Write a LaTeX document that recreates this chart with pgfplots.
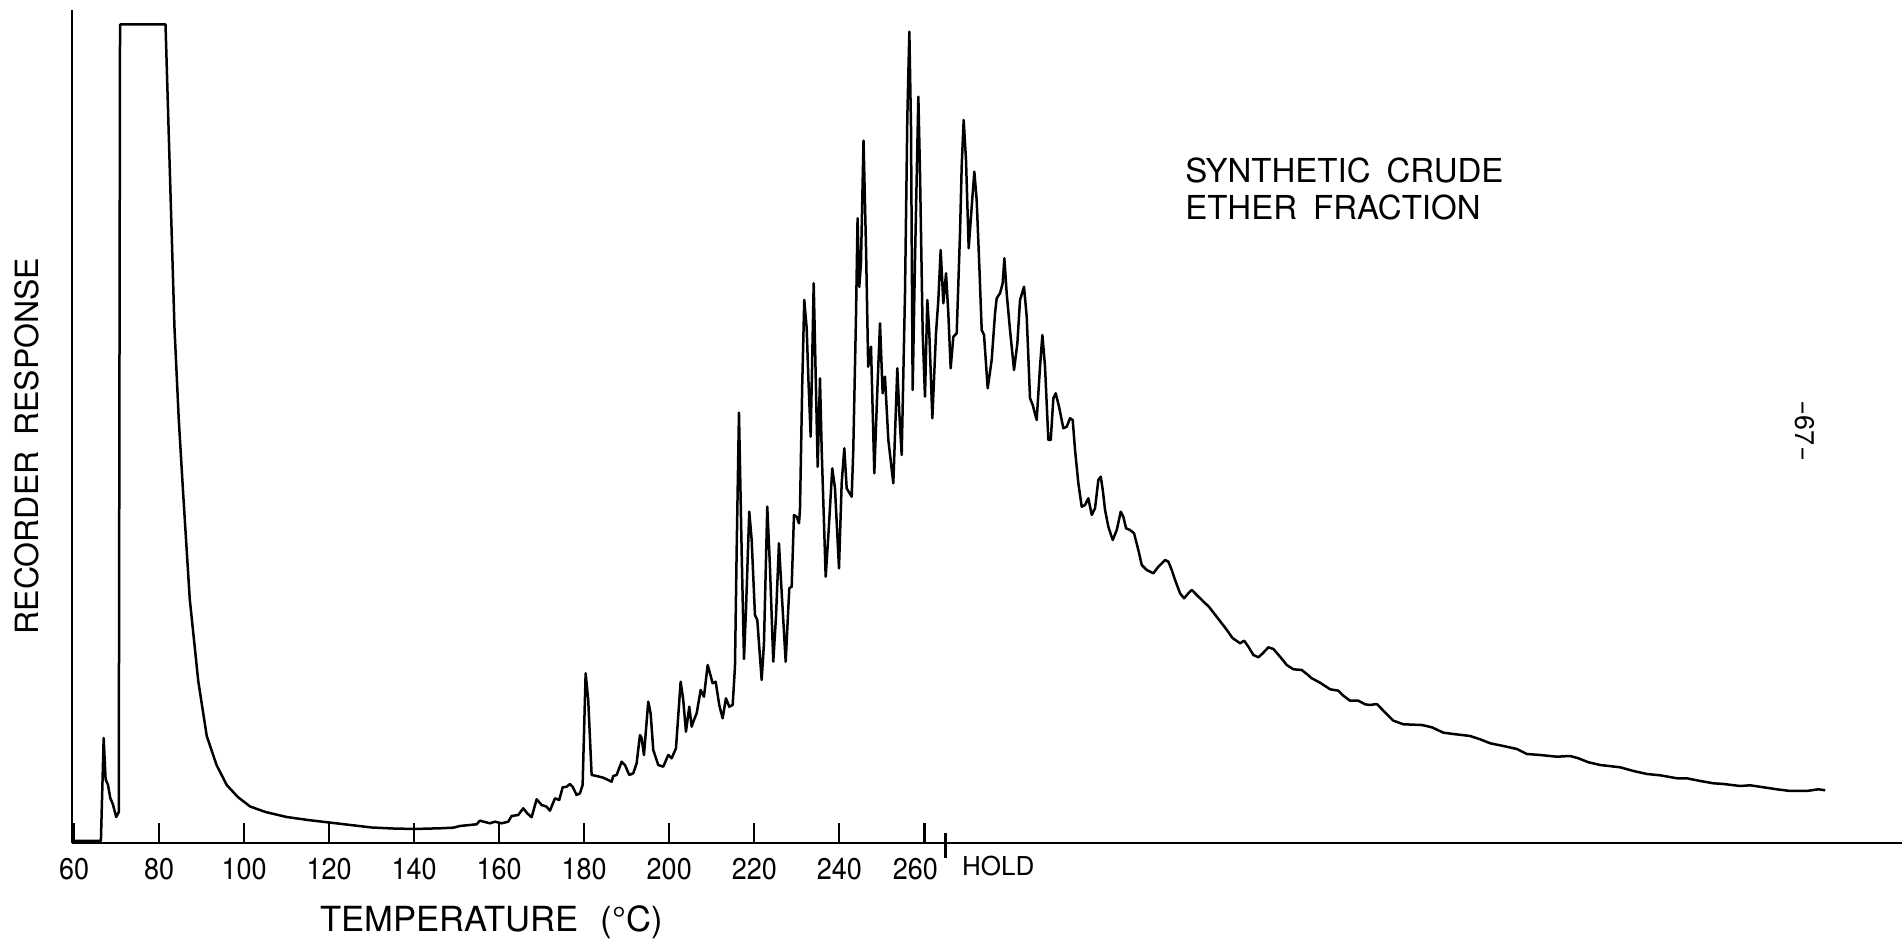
\documentclass[border=0pt]{standalone}
\usepackage{fontspec}
\setmainfont{TeX Gyre Heros}
\newfontfamily\letterfont[FakeStretch=0.9]{TeX Gyre Heros}
\usepackage{pgfplots}
\pgfplotsset{compat=1.18}
\newcommand{\longdash}{\scalebox{1.7}[1]{-}}
\begin{document}
\begin{tikzpicture}
\begin{axis}[
  scale only axis, width=915pt, height=416.5pt,
  xmin=59.5, xmax=490, ymin=0, ymax=833,
  axis x line=bottom, axis y line=left,
  axis line style={-, line width=1.4pt},
  xtick={60,80,...,260},
  xticklabels={60,80,100,120,140,160,180,200,220,240,\kern-9pt 260},
  tick align=inside,
  major tick length=10pt,
  tick style={line width=1.2pt, black},
  ytick=\empty,
  xticklabel style={font=\letterfont\fontsize{15}{15}\selectfont, inner sep=0pt, yshift=-7.5pt},
  /pgf/number format/assume math mode=true,
  clip=false,
]
\addplot[black, line width=1.25pt, line join=round, mark=none] table {
59.5 2
66.3 2
66.95 105
67.4 64
67.97 58
68.5 45
69.1 39
69.9 26
70.5 31
70.8 818.5
81.5 818.5
82.6 660
83.6 516
84.6 425
85.6 353
87.2 244
89.2 162
91.2 107
93.5 78
95.9 58
98.5 46
101.4 36.5
105 31
110 26
115 23
120 20.5
125 18
130 15.5
135 14.5
140 14
146.05 14.7
149.18 15.3
150.75 17
154.68 18.7
155.46 22.3
157.81 19.7
158.99 21.3
160.56 19.7
162.12 21.3
162.92 27
164.47 28
165.65 34.7
166.59 29.7
167.62 25.7
168.80 43.7
169.98 38
171.15 36.3
171.93 32.3
173.11 44.7
174.12 43
174.92 55.7
175.86 56.3
176.64 59
177.27 56.3
178.21 48
178.99 49.7
179.62 58
180.33 169.7
180.94 143
181.74 68
182.92 67
184.47 65.3
186.45 61.3
186.82 67
187.62 68
188.80 81.3
189.58 78
190.59 68
191.53 69.7
192.33 79.7
193.11 108
193.51 104.7
194.05 88
195.06 141.3
195.62 129.7
196.24 93
197.41 78
198.59 76.3
199.76 88
200.56 84.7
201.58 94.7
202.68 161.3
203.29 143
203.93 111.3
204.71 136.3
205.27 116.3
205.81 123
206.45 129.7
207.39 153
208.16 146.3
209.04 178
209.58 169.7
210.21 159.7
210.92 161.3
211.76 138
212.56 124.7
213.34 144.7
214.12 136.3
214.92 138
215.46 176.3
215.86 293
216.40 430.3
217.04 290
217.58 184
218.05 233
218.82 331.3
219.39 303
220.16 228
220.71 223
221.74 163
222.28 199.7
223.06 336.3
223.69 276.3
224.47 181.3
225.11 226.3
225.81 299.7
226.28 263
227.39 181.3
228.24 254.7
228.80 256.3
229.34 328
229.98 326.3
230.52 319.7
230.75 333
231.29 459.7
231.76 543
232.33 514.7
232.71 466.3
233.27 406.3
233.98 559.7
234.52 453
234.92 376.3
235.46 464.7
235.86 393
236.80 266.3
237.41 306.3
238.35 374.7
238.99 354.7
239.93 274.7
240.56 359.7
241.18 394.7
241.74 354.7
242.92 346.3
243.29 393
243.93 526.3
244.3 624.7
244.7 556
245.1 580
245.7 702.3
246.3 593
246.8 476.3
247.46 496.3
248.24 369.7
248.95 453
249.58 519.7
250.20 449.7
250.75 466.3
251.54 403
252.71 359.7
253.65 474.7
254.12 429.7
254.68 388
255.46 549.7
256.01 726.3
256.48 811.3
256.87 716.3
257.26 453
257.81 583
258.60 746.3
258.99 669.7
259.62 509.7
260.16 446.3
260.71 543
261.18 509.7
261.89 424.7
262.75 509.7
263.30 543
263.85 593
264.48 539.7
265.11 569.7
265.65 529.7
266.20 474.7
266.83 506.3
267.62 509.7
268.40 609.7
268.79 676.3
269.26 723
269.81 683
270.44 594.7
271.15 636.3
271.77 671.3
272.32 643
272.95 576.3
273.50 513
274.05 508
274.91 454.7
275.85 483
276.64 529.7
277.03 544.7
277.81 549.7
278.44 559.7
278.83 584.7
279.38 549.7
280.16 513
281.11 473
281.89 499.7
282.52 543
283.46 556.3
284.09 526.3
284.87 444.7
285.50 438
286.44 423
287.22 476.3
287.78 508
288.40 476.3
289.18 403
289.74 403
290.36 444.7
290.91 449.7
291.69 436.3
292.71 414.7
293.50 416.3
294.28 424.7
294.91 423
295.46 393
296.24 359.7
297.03 336.3
297.81 338
298.59 344.7
299.39 328
300.16 334.7
300.94 363
301.51 366.3
301.98 353
302.52 333
303.29 316.3
304.33 303
305.27 313
306.21 331.3
306.82 326.3
307.46 314.7
308.40 313
309.34 309.7
310.35 293
311.15 278
312.33 273
313.88 269.7
315.06 276.3
316.64 283
317.41 281.3
318.21 273
318.99 263
320.16 249.7
321.11 244.7
322.12 249.7
322.92 253
324.09 248
325.27 243
327 236
329 225
331 214
332.5 205
334.29 199.7
335.23 202.3
336.24 196.3
337.41 188
338.59 185.7
339.62 189.7
340.94 195.7
342.12 194
343.69 186.3
345.27 178
346.82 173.7
348.80 173
349.98 169
351.15 164.7
353.11 160.3
355.46 153.7
357.41 152.3
358.59 147.3
360.16 142.3
362.12 142.3
363.69 138.7
364.87 138
366.45 139
368.00 132.3
370.35 122.3
372.71 118.7
377.04 118
379.39 115.7
382.12 110.3
384.47 109
388.40 107
390.75 103.7
393.11 99.7
396.24 97
399.39 94
401.74 89
404.87 88
408.80 86.3
411.93 87
413.88 84.7
416.24 80.7
418.99 78
423.69 75.7
426.82 72
429.98 69
433.11 67.7
437.04 64.7
439.39 64.7
442.52 62
445.65 59.7
448.00 59
451.93 57
454.28 57.7
457.41 55.7
460.56 53.7
463.69 52
467.62 52
469.18 53
470.35 53.7
471.93 52.7
};
\draw[line width=1.2pt] (axis cs:265,10) -- (axis cs:265,-15);
\node[anchor=west, inner sep=0pt, font=\fontsize{13}{13}\selectfont] at (axis cs:268.8,-23) {HOLD};
\node[inner sep=0pt, font=\fontsize{17.3}{17.3}\selectfont] at (axis cs:158.2,-79) {TEMPERATURE\hspace{11pt}(°C)};
\node[inner sep=0pt, rotate=90, font=\fontsize{16}{16}\selectfont] at (axis cs:48.87,397) {RECORDER\hspace{8pt}RESPONSE};
\node[anchor=west, inner sep=0pt, font=\fontsize{16.5}{16.5}\selectfont] at (axis cs:321.3,673) {SYNTHETIC\hspace{8pt}CRUDE};
\node[anchor=west, inner sep=0pt, font=\fontsize{16.5}{16.5}\selectfont] at (axis cs:321.3,635.6) {ETHER\hspace{8pt}FRACTION};
\node[inner sep=0pt, rotate=-90, font=\fontsize{13.5}{13.5}\selectfont] at (axis cs:467.2,412) {\longdash 67\longdash};
\end{axis}
\pgfresetboundingbox
\path (-36pt,-49pt) rectangle (915pt,421.5pt);
\end{tikzpicture}
\end{document}
